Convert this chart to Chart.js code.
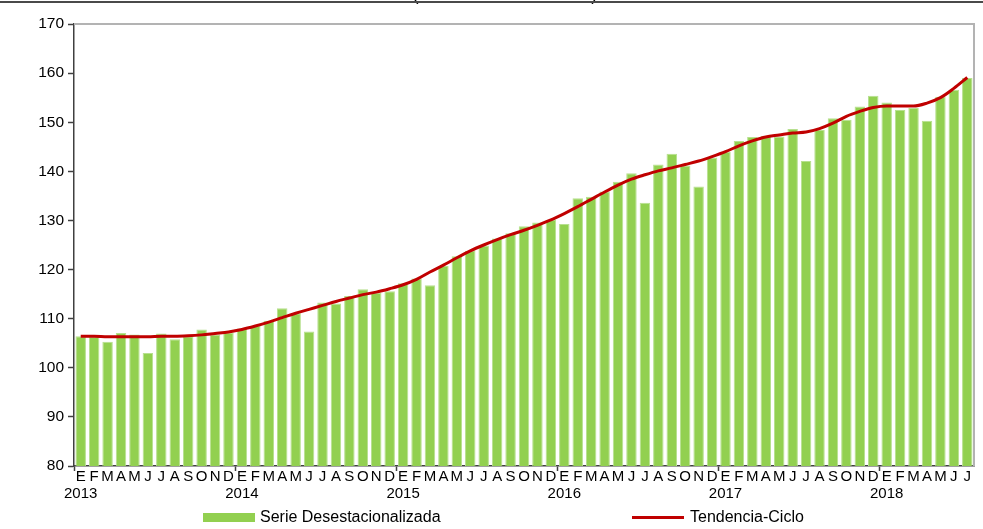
<!DOCTYPE html>
<html>
<head>
<meta charset="utf-8">
<script src="https://cdn.jsdelivr.net/npm/chart.js@4.4.1/dist/chart.umd.min.js"></script>
<style>
  html, body { margin: 0; padding: 0; background: #fff; }
  #wrap { position: relative; width: 983px; height: 529px; overflow: hidden; font-family: "Liberation Sans", Arial, sans-serif; }
  #topline { position: absolute; left: 0; top: 1px; width: 983px; height: 2px; background: #4a4a4a; }
  #title { position: absolute; left: 305px; width: 400px; top: -14.3px; text-align: center; font-size: 17.5px; line-height: 17.5px; color: #000; white-space: nowrap; }
  canvas { position: absolute; left: 0; top: 0; }
  .lg { position: absolute; font-size: 16px; line-height: 18px; color: #000; white-space: nowrap; }
</style>
</head>
<body>
<div id="wrap">
  <canvas id="c" width="983" height="529"></canvas>
  <div id="title">(Índice base 2013=100)</div>
  <div id="topline"></div>
  <div style="position:absolute;left:203px;top:513px;width:52px;height:9px;background:#92D050;"></div>
  <div class="lg" style="left:260px;top:508px;">Serie Desestacionalizada</div>
  <div style="position:absolute;left:632px;top:516px;width:52px;height:3px;background:#C00000;"></div>
  <div class="lg" style="left:690px;top:508px;">Tendencia-Ciclo</div>
</div>
<script>
const monthLetters = ['E','F','M','A','M','J','J','A','S','O','N','D'];
const years = ['2013','2014','2015','2016','2017','2018'];

const serieDesestacionalizada = [
  106.4, 106.3, 105.3, 107.1, 106.8, 103.0, 107.0, 105.8, 106.4, 107.8, 106.8, 107.2,
  108.0, 108.5, 109.6, 112.1, 111.1, 107.4, 113.3, 113.1, 114.6, 116.0, 115.3, 115.6,
  117.2, 118.2, 116.8, 120.7, 122.7, 123.8, 124.9, 126.3, 127.4, 128.8, 129.6, 130.1,
  129.3, 134.5, 134.8, 135.9, 137.9, 139.6, 133.6, 141.4, 143.6, 141.2, 136.9, 142.8,
  144.0, 146.2, 147.0, 147.2, 147.1, 148.6, 142.1, 148.4, 150.8, 150.5, 153.2, 155.4,
  154.0, 152.5, 152.9, 150.3, 155.2, 156.6, 159.0
];

const tendenciaCiclo = [
  106.4, 106.4, 106.3, 106.3, 106.3, 106.3, 106.4, 106.4, 106.5, 106.7, 107.0, 107.3,
  107.8, 108.5, 109.3, 110.2, 111.1, 111.9, 112.7, 113.5, 114.2, 114.9, 115.4, 116.1,
  116.9, 118.0, 119.5, 120.9, 122.4, 123.8, 125.0, 126.1, 127.1, 128.0, 129.0, 130.1,
  131.4, 132.8, 134.3, 135.8, 137.2, 138.4, 139.3, 140.1, 140.7, 141.4, 142.1, 143.0,
  144.0, 145.2, 146.2, 147.0, 147.4, 147.8, 148.0, 148.7, 149.8, 151.2, 152.2, 153.0,
  153.3, 153.3, 153.3, 153.9, 155.0, 156.9, 159.1
];

const yMin = 80, yMax = 170, yStep = 10;

const labels = serieDesestacionalizada.map((v, i) => monthLetters[i % 12]);

const plotFrame = {
  id: 'plotFrame',
  beforeDatasetsDraw(chart) {
    const a = chart.chartArea, ctx = chart.ctx;
    ctx.save();
    ctx.strokeStyle = '#b3b3b3';
    ctx.lineWidth = 2;
    ctx.beginPath();
    ctx.moveTo(a.left, a.top);
    ctx.lineTo(a.right, a.top);
    ctx.lineTo(a.right, a.bottom);
    ctx.stroke();
    ctx.restore();
  }
};

new Chart(document.getElementById('c'), {
  type: 'bar',
  data: {
    labels: labels,
    datasets: [
      {
        type: 'line',
        label: 'Tendencia-Ciclo',
        data: tendenciaCiclo,
        borderColor: '#C00000',
        borderWidth: 3,
        pointRadius: 0,
        cubicInterpolationMode: 'monotone',
        fill: false,
        order: 0
      },
      {
        type: 'bar',
        label: 'Serie Desestacionalizada',
        data: serieDesestacionalizada,
        backgroundColor: '#92D050',
        borderColor: '#b7e08f',
        borderWidth: 1,
        barPercentage: 0.78,
        categoryPercentage: 1.0,
        order: 1
      }
    ]
  },
  options: {
    responsive: false,
    devicePixelRatio: 1,
    animation: false,
    layout: { padding: { left: 0, right: 9, top: 24, bottom: 0 } },
    plugins: { legend: { display: false }, tooltip: { enabled: false }, title: { display: false } },
    scales: {
      x: {
        offset: true,
        grid: {
          offset: true,
          drawOnChartArea: false,
          drawTicks: true,
          tickLength: 5,
          tickWidth: 1.5,
          tickColor: (ctx) => (ctx.index !== undefined && ctx.index % 12 === 0) ? '#404040' : 'rgba(0,0,0,0)'
        },
        border: { color: '#404040', width: 1.5 },
        ticks: {
          autoSkip: false,
          maxRotation: 0,
          minRotation: 0,
          padding: -3,
          color: '#000',
          font: { family: '"Liberation Sans", Arial, sans-serif', size: 15, lineHeight: 1.13 },
          callback: (value, index) => index % 12 === 0 ? [monthLetters[index % 12], years[index / 12]] : monthLetters[index % 12]
        },
        afterFit: (scale) => { scale.height = 63; }
      },
      y: {
        min: yMin,
        max: yMax,
        grid: {
          drawOnChartArea: false,
          drawTicks: true,
          tickLength: 6,
          color: '#404040',
          tickWidth: 1.5
        },
        border: { color: '#404040', width: 1.5 },
        ticks: {
          stepSize: yStep,
          padding: 4,
          color: '#000',
          font: { family: '"Liberation Sans", Arial, sans-serif', size: 15.5 }
        },
        afterFit: (scale) => { scale.width = 74; }
      }
    }
  },
  plugins: [plotFrame]
});
</script>
</body>
</html>
